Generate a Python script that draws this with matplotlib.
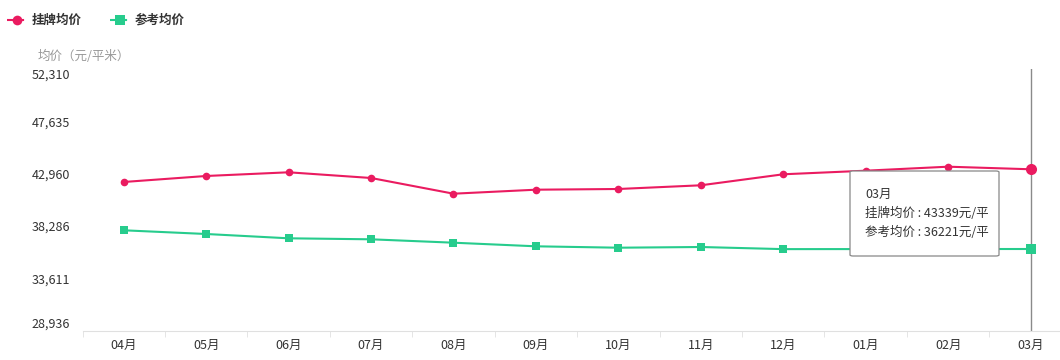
import matplotlib

matplotlib.use("Agg")
import matplotlib.pyplot as plt
from matplotlib.lines import Line2D
from matplotlib.patches import FancyBboxPatch
import numpy as np

plt.rcParams["font.family"] = ["Noto Sans CJK SC", "DejaVu Sans"]

# data
months = ["04月", "05月", "06月", "07月", "08月", "09月",
          "10月", "11月", "12月", "01月", "02月", "03月"]
listing_price = [42204, 42740, 43070, 42561, 41159, 41516,
                 41579, 41909, 42892, 43213, 43570, 43339]
reference_price = [37891, 37561, 37176, 37087, 36784, 36462,
                   36337, 36400, 36210, 36215, 36218, 36221]
y_ticks = [28936, 33611, 38286, 42960, 47635, 52310]

RED = "#ea1b60"
GREEN = "#27cc8d"
W, H = 1060, 360

fig = plt.figure(figsize=(W / 100, H / 100), dpi=100)
# axes spans past the right edge, like the original (last band is cut off)
left, right, bottom, top = 82.5, 1071.8, 330.6, 68.8
ax = fig.add_axes([left / W, (H - bottom) / H, (right - left) / W, (bottom - top) / H])

x = np.arange(len(months))
ax.plot(x, listing_price, color=RED, lw=1.5, marker="o", ms=5.5,
        markeredgewidth=0, zorder=3)
ax.plot(x, reference_price, color=GREEN, lw=1.5, marker="s", ms=6,
        markeredgewidth=0, zorder=3)
# hovered point is drawn larger
ax.plot(x[-1], listing_price[-1], "o", color=RED, ms=8, mew=0, zorder=4)
ax.plot(x[-1], reference_price[-1], "s", color=GREEN, ms=7, mew=0, zorder=4)
ax.axvline(x[-1], color="#8a8a8a", lw=1, zorder=2)

ax.set_xlim(-0.5, len(months) - 0.5)
ax.set_ylim(y_ticks[0], y_ticks[-1])

for s in ["left", "right", "top"]:
    ax.spines[s].set_visible(False)
ax.spines["bottom"].set_color("#e0e0e0")

ax.set_xticks(x)
ax.set_xticklabels(months, fontsize=9, color="#333333")
ax.tick_params(axis="x", which="major", length=0, pad=6)
ax.set_xticks(np.arange(-0.5, len(months)), minor=True)
ax.tick_params(axis="x", which="minor", length=4, color="#e0e0e0", direction="out")

ax.set_yticks(y_ticks)
ax.set_yticklabels([f"{v:,}" for v in y_ticks], fontsize=9, color="#333333")
ax.tick_params(axis="y", length=0, pad=9)
ylabels = ax.get_yticklabels()
ylabels[0].set_va("bottom")
ylabels[-1].set_va("top")

fig.text(38 / W, 1 - 56 / H, "均价（元/平米）", fontsize=9, color="#999999",
         ha="left", va="center")

# legend
def legend_item(x0, color, marker, label):
    y = 1 - 20 / H
    fig.add_artist(Line2D([x0 / W, (x0 + 20) / W], [y, y], color=color, lw=1.5,
                          dashes=(3, 2.2), transform=fig.transFigure))
    fig.add_artist(Line2D([(x0 + 10) / W], [y], marker=marker, color=color,
                          ms=7, mew=0, transform=fig.transFigure))
    fig.text((x0 + 25) / W, y, label, fontsize=9, fontweight="bold",
             color="#333333", ha="left", va="center")

legend_item(7, RED, "o", "挂牌均价")
legend_item(110, GREEN, "s", "参考均价")

# tooltip
bx0, by0, bx1, by1 = 850, 171, 999, 256
box = FancyBboxPatch((bx0 / W, 1 - by1 / H), (bx1 - bx0) / W, (by1 - by0) / H,
                     boxstyle="round,pad=0,rounding_size=0.003",
                     transform=fig.transFigure, facecolor="white",
                     edgecolor="#888888", lw=0.9, zorder=10)
fig.add_artist(box)
tip = [months[-1],
       f"挂牌均价 : {listing_price[-1]}元/平",
       f"参考均价 : {reference_price[-1]}元/平"]
for i, t in enumerate(tip):
    fig.text(865 / W, 1 - (194 + 19 * i) / H, t, fontsize=9, color="#333333",
             ha="left", va="center", zorder=11)

fig.savefig("out.png", dpi=100)
